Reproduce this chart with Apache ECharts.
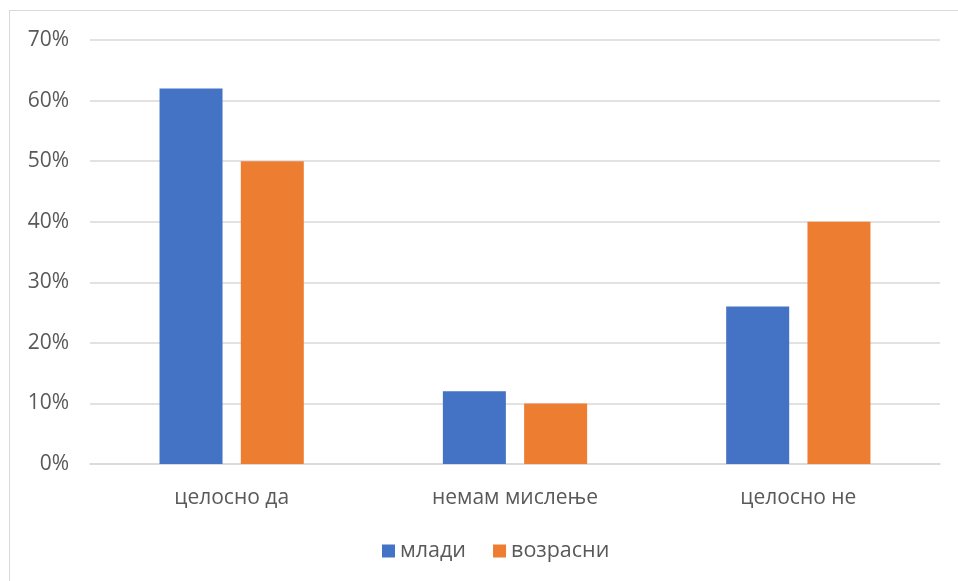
<!DOCTYPE html>
<html>
<head>
<meta charset="utf-8">
<script src="https://cdn.jsdelivr.net/npm/echarts@6/dist/echarts.min.js"></script>
<style>
  html, body { margin: 0; padding: 0; background: #fff; }
  #frame { position: absolute; left: 9px; top: 10px; width: 1000px; height: 620px; border: 1.5px solid #d9d9d9; box-sizing: border-box; }
  #chart { position: absolute; left: 0; top: 0; width: 958px; height: 581px; }
</style>
</head>
<body>
<div id="frame"></div>
<div id="chart"></div>
<script>
// Survey answers by age group (share of respondents, %)
const categories = ['целосно да', 'немам мислење', 'целосно не'];
const mladi = [62, 12, 26];
const vozrasni = [50, 10, 40];
const seriesNames = ['млади', 'возрасни'];
const yTicks = { min: 0, max: 70, interval: 10 };

const chart = echarts.init(document.getElementById('chart'), null, { renderer: 'canvas' });
const font = '"Open Sans", "Noto Sans", sans-serif';
chart.setOption({
  backgroundColor: 'transparent',
  animation: false,
  grid: { left: 90, right: 18, top: 40, bottom: 117, containLabel: false },
  legend: {
    data: seriesNames,
    top: 535,
    left: 377,
    itemWidth: 13,
    itemHeight: 13,
    itemGap: 27,
    icon: 'rect',
    textStyle: { fontFamily: font, fontSize: 21.5, color: '#595959', padding: [0, 0, 0, 0] }
  },
  xAxis: {
    type: 'category',
    data: categories,
    axisLine: { lineStyle: { color: '#d9d9d9', width: 1.5 } },
    axisTick: { show: false },
    axisLabel: { fontFamily: font, fontSize: 21, color: '#595959', margin: 24 }
  },
  yAxis: {
    type: 'value',
    min: yTicks.min,
    max: yTicks.max,
    interval: yTicks.interval,
    axisLine: { show: false },
    axisTick: { show: false },
    splitLine: { lineStyle: { color: '#d9d9d9', width: 1.5 } },
    axisLabel: { fontFamily: font, fontSize: 21, color: '#595959', margin: 21, formatter: '{value}%' }
  },
  series: [
    { name: seriesNames[0], type: 'bar', data: mladi, barWidth: 63, barGap: '29%', itemStyle: { color: '#4472C4' } },
    { name: seriesNames[1], type: 'bar', data: vozrasni, barWidth: 63, itemStyle: { color: '#ED7D31' } }
  ]
});
</script>
</body>
</html>
